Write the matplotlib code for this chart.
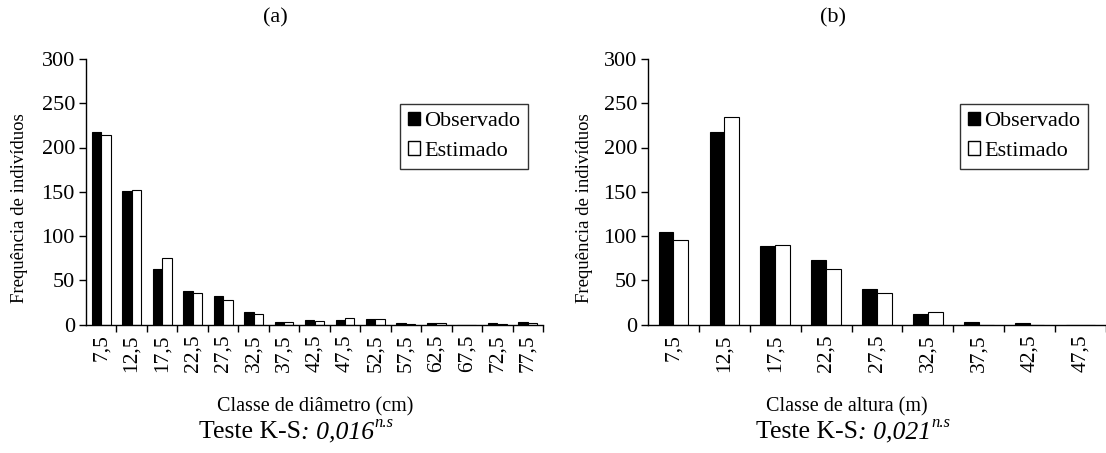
import matplotlib
matplotlib.use("Agg")
import matplotlib.pyplot as plt
from matplotlib.patches import Rectangle
import numpy as np

plt.rcParams["font.family"] = ["Liberation Serif", "DejaVu Serif"]

# (a) diameter classes
diam_classes = ["7,5", "12,5", "17,5", "22,5", "27,5", "32,5", "37,5", "42,5",
                "47,5", "52,5", "57,5", "62,5", "67,5", "72,5", "77,5"]
diam_obs = [217, 151, 63, 38, 32, 14, 3, 5, 5, 6, 1.5, 1.5, 0, 1.5, 3]
diam_est = [214, 152, 75, 36, 28, 12, 3, 4.5, 7.5, 6, 0.5, 1.5, 0, 0.5, 2]

# (b) height classes
height_classes = ["7,5", "12,5", "17,5", "22,5", "27,5", "32,5", "37,5", "42,5", "47,5"]
height_obs = [105, 218, 89, 73, 40, 12, 3, 1.5, 0]
height_est = [96, 235, 90, 63, 36, 14.5, 0, 0, 0]

ks_values = ["0,016", "0,021"]
yticks = [0, 50, 100, 150, 200, 250, 300]

W, H = 1106, 453
fig = plt.figure(figsize=(W / 100, H / 100), dpi=100)


def px_axes(x0, x1, ytop, ybot):
    return fig.add_axes([x0 / W, 1 - ybot / H, (x1 - x0) / W, (ybot - ytop) / H])


def draw_panel(ax, classes, obs, est, width, ylabel_x):
    x = np.arange(len(classes))
    ax.bar(x - width / 2, obs, width, color="black", edgecolor="black", linewidth=0.8)
    ax.bar(x + width / 2, est, width, color="white", edgecolor="black", linewidth=0.8)
    ax.set_xlim(-0.5, len(classes) - 0.5)
    ax.set_ylim(0, 300)
    ax.set_yticks(yticks)
    ax.set_yticklabels([str(v) for v in yticks], fontsize=16)
    ax.set_xticks(x)
    ax.set_xticklabels(classes, rotation=90, fontsize=15.5)
    ax.tick_params(axis="x", which="major", length=0, pad=7)
    ax.set_xticks(np.arange(len(classes)) + 0.5, minor=True)
    ax.tick_params(axis="x", which="minor", length=5, width=1, direction="out")
    ax.tick_params(axis="y", length=5, width=1, direction="out", pad=3)
    for s in ("top", "right"):
        ax.spines[s].set_visible(False)
    for s in ("left", "bottom"):
        ax.spines[s].set_linewidth(1)
    ax.set_ylabel("Frequência de indivíduos", fontsize=13.5)
    ax.yaxis.set_label_coords(ylabel_x, 0.44)
    h = [Rectangle((0, 0), 1, 1, facecolor="black", edgecolor="black"),
         Rectangle((0, 0), 1, 1, facecolor="white", edgecolor="black")]
    return h


axa = px_axes(86, 543, 59, 324.5)
ha = draw_panel(axa, diam_classes, diam_obs, diam_est, 0.31, -0.127)
axb = px_axes(648, 1106, 59, 324.5)
hb = draw_panel(axb, height_classes, height_obs, height_est, 0.29, -0.121)

for ax, h, lx in ((axa, ha, 400), (axb, hb, 960)):
    leg = fig.legend(h, ["Observado", "Estimado"], loc="upper left",
                     bbox_to_anchor=(lx / W, 1 - 104 / H), fontsize=16,
                     frameon=True, fancybox=False, edgecolor="black",
                     handlelength=0.55, handleheight=0.55, handletextpad=0.2,
                     borderpad=0.35, labelspacing=0.45, borderaxespad=0)
    leg.get_frame().set_linewidth(1)

fig.text(275 / W, 1 - 18 / H, "(a)", ha="center", va="center", fontsize=16)
fig.text(833 / W, 1 - 18 / H, "(b)", ha="center", va="center", fontsize=16)

fig.text(315 / W, 1 - 407 / H, "Classe de diâmetro (cm)", ha="center", va="center", fontsize=14.5)
fig.text(847 / W, 1 - 407 / H, "Classe de altura (m)", ha="center", va="center", fontsize=14.5)

# "Teste K-S: value^n.s" assembled from plain, italic and superscript pieces
fig.canvas.draw()
renderer = fig.canvas.get_renderer()


def ks_label(xstart, ycenter, value):
    x = xstart
    pieces = [("Teste K-S", "normal", 18.5, 0), (": " + value, "italic", 18.5, 0),
              ("n.s", "italic", 12, 9)]
    for txt, style, size, dy in pieces:
        t = fig.text(x / W, 1 - (ycenter - dy) / H, txt, ha="left", va="center",
                     fontsize=size, fontstyle=style)
        bb = t.get_window_extent(renderer)
        x += bb.width


ks_label(199, 432, ks_values[0])
ks_label(756, 432, ks_values[1])

fig.savefig("out.png", dpi=100, facecolor="white")
